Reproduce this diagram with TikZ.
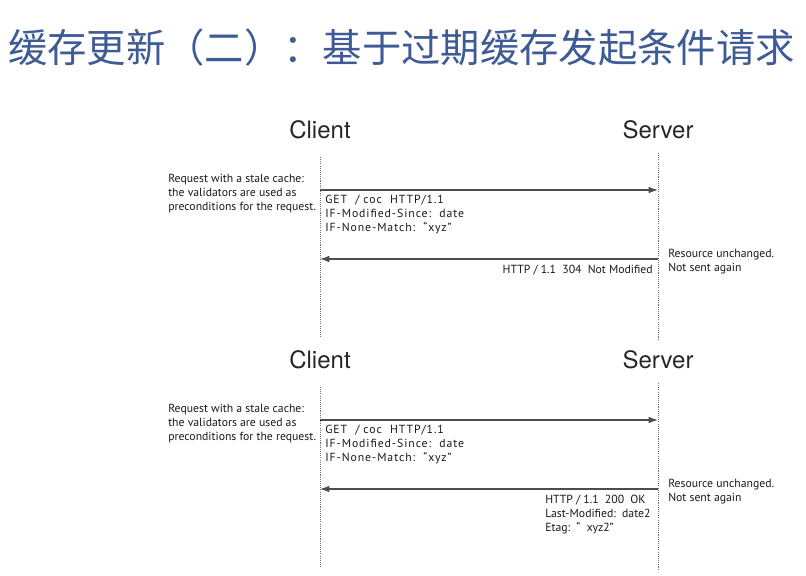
\documentclass[tikz,border=0pt]{standalone}
\usepackage{fontspec}
\setmainfont{PT Sans}
\newfontfamily\cjkfont{Noto Sans CJK SC}
\newfontfamily\headfont{TeX Gyre Heros}
\newfontfamily\msgfont[LetterSpace=8]{PT Sans}
\usepackage{xcolor}
\usetikzlibrary{positioning,calc,arrows.meta}
\definecolor{titleblue}{HTML}{3F5B95}

\begin{document}
\begin{tikzpicture}[x=0.75pt,y=-0.75pt,
    actor/.style={font=\headfont\fontsize{18}{20}\selectfont, text=black!85},
    note/.style={font=\fontsize{8.8}{10.5}\selectfont, align=left, inner sep=0pt, text=black!90},
    header/.style={font=\msgfont\fontsize{8.8}{10.5}\selectfont, align=left, inner sep=0pt, text=black!90},
    lifeline/.style={black!55, line width=0.6pt, dash pattern=on 0.8pt off 0.8pt},
    msg/.style={-{Latex[length=7pt,width=5pt]}, line width=0.9pt, draw=black!70}]
    \useasboundingbox (0,0) rectangle (806,575);

    % Title
    \node[anchor=west, inner sep=0pt, text=titleblue, font=\cjkfont\fontsize{29.5}{32}\selectfont]
        (title) at (8,48) {缓存更新（二）：基于过期缓存发起条件请求};

    % Two exchanges, one above the other
    \foreach \dy/\i in {0/a, 230/b} {
        % Actors and lifelines
        \node[actor] (client\i) at (320,{130+\dy}) {Client};
        \node[actor] (server\i) at (658,{130+\dy}) {Server};
        \coordinate (ctop\i) at (320,{157+\dy});
        \coordinate (cbot\i) at (320,{338+\dy});
        \coordinate (stop\i) at (658,{153+\dy});
        \coordinate (sbot\i) at (658,{340+\dy});
        \draw[lifeline] (ctop\i) -- (cbot\i);
        \draw[lifeline] (stop\i) -- (sbot\i);

        % Conditional request
        \coordinate (creq\i) at (320,{190+\dy});
        \coordinate (sreq\i) at (658,{190+\dy});
        \draw[msg] (creq\i) -- (sreq\i);
        \node[note, anchor=north west] (stale\i) at (168,{174+\dy})
            {Request with a stale cache:\\the validators are used as\\preconditions for the request.};
        \node[header, anchor=north west] (get\i) at (325,{195+\dy})
            {GET\ \ / coc\ \ HTTP/1.1\\IF-Modified-Since:\ \ date\\IF-None-Match:\ \ “xyz”};

        % Response
        \coordinate (sres\i) at (658,{259+\dy});
        \coordinate (cres\i) at (320,{259+\dy});
        \draw[msg] (sres\i) -- (cres\i);
        \node[note, anchor=north west] (same\i) at (668,{249+\dy})
            {Resource unchanged.\\Not sent again};
    }

    % Response headers
    \node[note, anchor=north east] (notmod) at (653,265) {HTTP / 1.1\ \ 304\ \ Not\ Modified};
    \node[note, anchor=north west] (okres) at (545,495)
        {HTTP / 1.1\ \ 200\ \ OK\\Last-Modified:\ \ date2\\Etag:\ \ “\ \ xyz2”};

\end{tikzpicture}
\end{document}
